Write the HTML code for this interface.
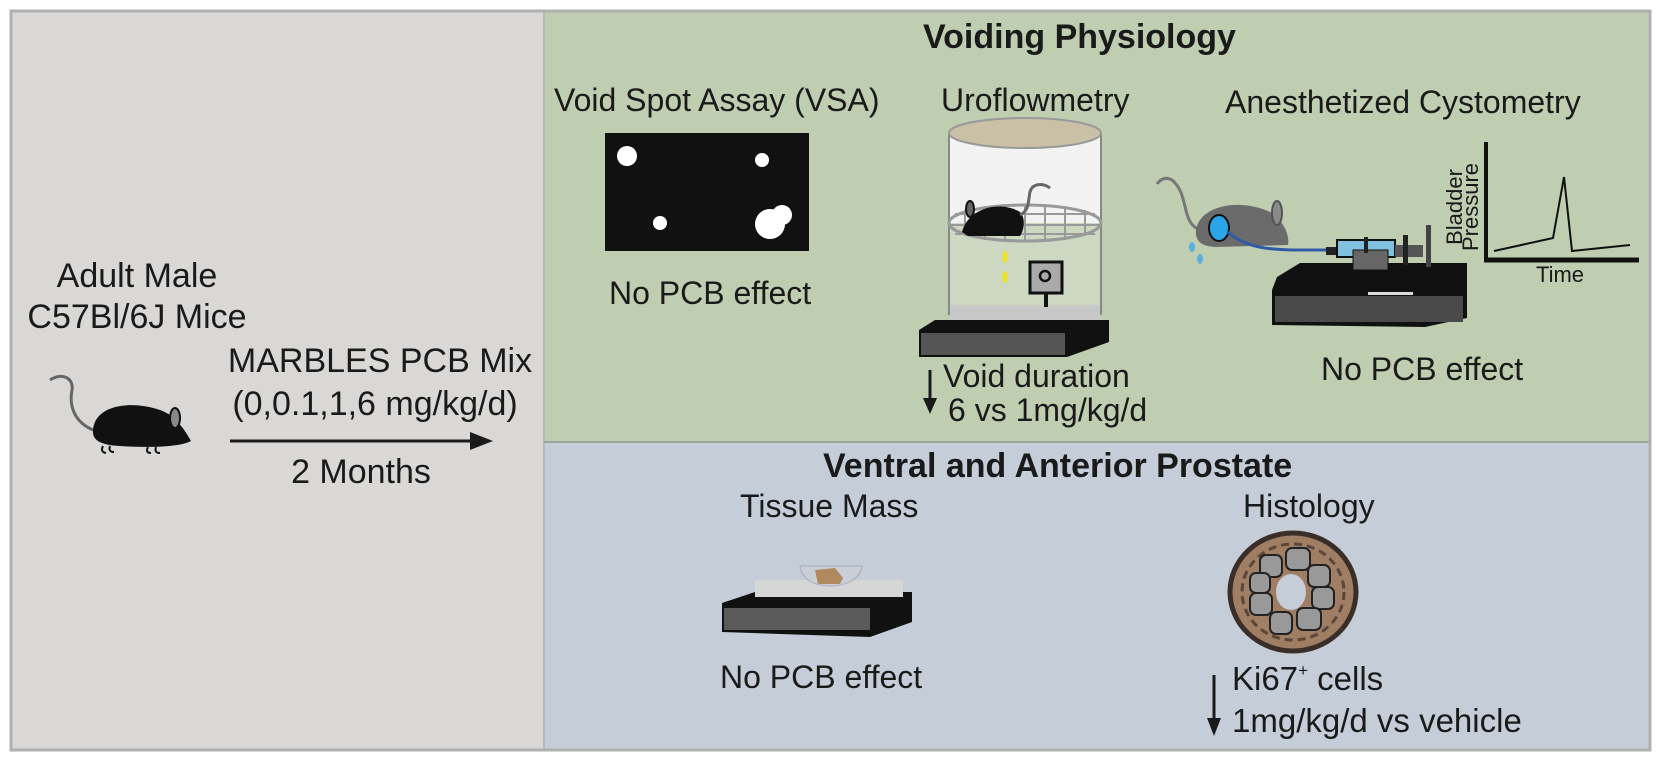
<!DOCTYPE html>
<html><head><meta charset="utf-8"><style>
html,body{margin:0;padding:0;background:#fff;}
svg{display:block;font-family:"Liberation Sans",Arial,sans-serif;}
</style></head><body>
<svg width="1661" height="761" viewBox="0 0 1661 761" xmlns="http://www.w3.org/2000/svg">
<rect x="0" y="0" width="1661" height="761" fill="#ffffff"/>
<rect x="11" y="11" width="533" height="739" fill="#d9d8d6"/>
<rect x="544" y="11" width="1106" height="431" fill="#bfcdb0"/>
<rect x="544" y="442" width="1106" height="308" fill="#c5ced8"/>
<line x1="544" y1="11" x2="544" y2="750" stroke="#b8b8b8" stroke-width="2"/>
<line x1="544" y1="442" x2="1650" y2="442" stroke="#9ca39a" stroke-width="2"/>
<rect x="11" y="11" width="1639" height="739" fill="none" stroke="#b0b0b0" stroke-width="3"/>

<!-- LEFT -->
<g font-size="34" fill="#1a1a1a" text-anchor="middle">
<text x="137" y="287">Adult Male</text>
<text x="137" y="328">C57Bl/6J Mice</text>
<text x="380" y="372">MARBLES PCB Mix</text>
<text x="375" y="415">(0,0.1,1,6 mg/kg/d)</text>
<text x="361" y="483">2 Months</text>
</g>
<line x1="230" y1="441" x2="478" y2="441" stroke="#1a1a1a" stroke-width="3"/>
<polygon points="493,441 470,432 470,450" fill="#1a1a1a"/>
<path d="M93,430 C70,420 70,400 72,390 C74,378 62,372 50,380" fill="none" stroke="#666" stroke-width="3"/>
<path d="M93,430 C95,405 130,400 160,410 C175,415 185,430 191,441 C180,447 150,448 120,446 C100,445 92,440 93,430 Z" fill="#111"/>
<ellipse cx="175" cy="418" rx="5" ry="10" fill="#888" stroke="#111" stroke-width="2"/>
<path d="M103,446 q-3,6 3,7 M110,446 q-2,6 4,6 M148,447 q-3,6 3,6 M156,447 q-2,6 4,6" stroke="#111" stroke-width="2" fill="none"/>

<!-- VOIDING -->
<text x="923" y="48" font-size="34" font-weight="bold" fill="#1a1a1a">Voiding Physiology</text>
<g font-size="32" fill="#1a1a1a">
<text x="554" y="111">Void Spot Assay (VSA)</text>
<text x="609" y="304">No PCB effect</text>
<text x="941" y="111">Uroflowmetry</text>
<text x="1225" y="113">Anesthetized Cystometry</text>
<text x="1321" y="380">No PCB effect</text>
<text x="943" y="387">Void duration</text>
<text x="948" y="421">6 vs 1mg/kg/d</text>
</g>
<line x1="930" y1="370" x2="930" y2="402" stroke="#1a1a1a" stroke-width="3"/>
<polygon points="930,414 923,398 937,398" fill="#1a1a1a"/>
<!-- VSA -->
<rect x="605" y="133" width="204" height="118" fill="#111"/>
<circle cx="627" cy="156" r="10" fill="#fff"/>
<circle cx="762" cy="160" r="7" fill="#fff"/>
<circle cx="660" cy="223" r="7" fill="#fff"/>
<circle cx="770" cy="224" r="15" fill="#fff"/>
<circle cx="782" cy="215" r="10" fill="#fff"/>
<!-- uroflow base -->
<polygon points="919,330 935,320 1109,320 1109,342 1067,357 919,357" fill="#111"/>
<rect x="921" y="333" width="144" height="22" fill="#555"/>
<!-- cylinder -->
<rect x="949" y="133" width="152" height="90" fill="#f2f2f2"/>
<rect x="949" y="223" width="152" height="90" fill="#cdd8c3"/>
<rect x="949" y="305" width="152" height="15" fill="#c8c8c8"/>
<line x1="949" y1="133" x2="949" y2="315" stroke="#888" stroke-width="2"/>
<line x1="1101" y1="133" x2="1101" y2="315" stroke="#888" stroke-width="2"/>
<ellipse cx="1025" cy="133" rx="76" ry="15" fill="#c9c0a6" stroke="#999" stroke-width="2"/>
<ellipse cx="1025" cy="223" rx="76" ry="18" fill="none" stroke="#999" stroke-width="3"/>
<g stroke="#999" stroke-width="2">
<line x1="965" y1="210" x2="965" y2="236"/><line x1="985" y1="206" x2="985" y2="240"/><line x1="1005" y1="205" x2="1005" y2="241"/><line x1="1025" y1="205" x2="1025" y2="241"/><line x1="1045" y1="205" x2="1045" y2="241"/><line x1="1065" y1="206" x2="1065" y2="240"/><line x1="1085" y1="210" x2="1085" y2="236"/>
<line x1="955" y1="214" x2="1095" y2="214"/><line x1="950" y1="225" x2="1100" y2="225"/><line x1="955" y1="234" x2="1095" y2="234"/>
</g>
<path d="M962,232 C968,208 1000,200 1020,212 C1026,218 1024,230 1020,236 L968,236 Z" fill="#111"/>
<ellipse cx="970" cy="209" rx="4" ry="8" fill="#666" stroke="#111" stroke-width="2"/>
<path d="M1020,215 C1030,210 1028,200 1030,192 C1032,184 1042,182 1050,188" fill="none" stroke="#666" stroke-width="3"/>
<ellipse cx="1005" cy="257" rx="2.5" ry="6" fill="#f2e21a"/>
<ellipse cx="1005" cy="277" rx="2.5" ry="6" fill="#f2e21a"/>
<rect x="1030" y="262" width="32" height="31" fill="#aaa" stroke="#111" stroke-width="3"/>
<circle cx="1045" cy="276" r="5" fill="none" stroke="#111" stroke-width="2.5"/>
<line x1="1046" y1="293" x2="1046" y2="307" stroke="#111" stroke-width="4"/>
<!-- cystometry -->
<path d="M1200,230 C1180,222 1190,195 1172,180 C1165,176 1160,180 1157,184" fill="none" stroke="#777" stroke-width="3"/>
<path d="M1196,230 C1200,205 1240,198 1270,212 C1283,220 1290,235 1288,245 L1215,247 C1200,246 1195,240 1196,230 Z" fill="#6b6b6b"/>
<ellipse cx="1277" cy="213" rx="5" ry="12" fill="#8a8a8a" stroke="#555" stroke-width="2"/>
<ellipse cx="1219" cy="228" rx="10" ry="13" fill="#2aa6e8" stroke="#111" stroke-width="2"/>
<ellipse cx="1192" cy="247" rx="3" ry="5" fill="#5ab0e0"/>
<ellipse cx="1200" cy="259" rx="3" ry="5" fill="#5ab0e0"/>
<path d="M1228,232 C1250,252 1280,250 1330,250" fill="none" stroke="#2f5aa8" stroke-width="3"/>
<polygon points="1277,277 1300,263 1467,263 1467,318 1425,327 1272,325 1272,290" fill="#111"/>
<rect x="1275" y="296" width="188" height="26" fill="#4a4a4a"/>
<rect x="1368" y="292" width="45" height="3" fill="#ddd"/>
<rect x="1326" y="247" width="11" height="8" fill="#222"/>
<rect x="1337" y="240" width="58" height="17" fill="#7fc0df" stroke="#111" stroke-width="2"/>
<rect x="1353" y="250" width="35" height="20" fill="#666" stroke="#111" stroke-width="1"/>
<rect x="1364" y="237" width="4" height="16" fill="#222"/>
<rect x="1395" y="245" width="28" height="12" fill="#555"/>
<rect x="1403" y="235" width="5" height="30" fill="#222"/>
<rect x="1426" y="225" width="5" height="42" fill="#444"/>
<line x1="1486" y1="142" x2="1486" y2="261" stroke="#111" stroke-width="4"/>
<line x1="1484" y1="260" x2="1639" y2="260" stroke="#111" stroke-width="5"/>
<polyline points="1494,251 1553,238 1564,177 1572,251 1630,245" fill="none" stroke="#111" stroke-width="2"/>
<text transform="translate(1462,207) rotate(-90)" font-size="22" text-anchor="middle" fill="#1a1a1a">Bladder</text>
<text transform="translate(1478,207) rotate(-90)" font-size="22" text-anchor="middle" fill="#1a1a1a">Pressure</text>
<text x="1560" y="282" font-size="22" text-anchor="middle" fill="#1a1a1a">Time</text>

<!-- PROSTATE -->
<text x="823" y="477" font-size="34" font-weight="bold" fill="#1a1a1a">Ventral and Anterior Prostate</text>
<g font-size="32" fill="#1a1a1a">
<text x="740" y="517">Tissue Mass</text>
<text x="1243" y="517">Histology</text>
<text x="720" y="688">No PCB effect</text>
</g>
<g font-size="33" fill="#1a1a1a">
<text x="1232" y="690">Ki67<tspan font-size="17" dy="-14">+</tspan><tspan dy="14"> cells</tspan></text>
<text x="1232" y="732">1mg/kg/d vs vehicle</text>
</g>
<line x1="1214" y1="675" x2="1214" y2="722" stroke="#1a1a1a" stroke-width="3"/>
<polygon points="1214,736 1207,718 1221,718" fill="#1a1a1a"/>
<!-- scale -->
<polygon points="722,603 755,592 912,592 912,622 870,637 722,632" fill="#111"/>
<rect x="724" y="608" width="146" height="22" fill="#5a5a5a"/>
<rect x="755" y="580" width="148" height="17" fill="#d6d6d6"/>
<path d="M800,566 L862,566 C860,580 845,586 831,586 C815,586 802,580 800,566 Z" fill="#c9cfd6" stroke="#aab" stroke-width="1"/>
<path d="M815,570 L835,568 L843,578 L840,584 L818,584 Z" fill="#b08a5e"/>
<!-- histology -->
<ellipse cx="1293" cy="592" rx="63" ry="59" fill="#a07e64" stroke="#3a2e28" stroke-width="5"/>
<ellipse cx="1293" cy="592" rx="51" ry="48" fill="none" stroke="#5a463a" stroke-width="3" stroke-dasharray="8 5"/>
<g fill="#999" stroke="#222" stroke-width="2">
<rect x="1260" y="555" width="22" height="22" rx="6"/><rect x="1286" y="548" width="24" height="22" rx="6"/><rect x="1308" y="565" width="22" height="22" rx="6"/>
<rect x="1312" y="587" width="22" height="22" rx="6"/><rect x="1297" y="608" width="24" height="22" rx="6"/><rect x="1270" y="612" width="22" height="22" rx="6"/>
<rect x="1250" y="593" width="22" height="22" rx="6"/><rect x="1250" y="573" width="20" height="20" rx="6"/>
</g>
<ellipse cx="1291" cy="592" rx="15" ry="18" fill="#c5ced8"/>
</svg>
</body></html>
